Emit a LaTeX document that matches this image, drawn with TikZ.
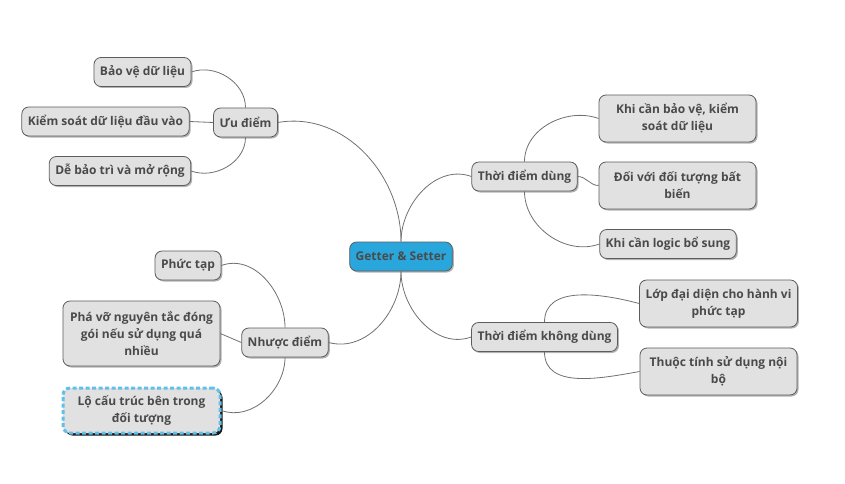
\documentclass[tikz,border=0pt]{standalone}
\usepackage{fontspec}
\setmainfont{Open Sans}
\usetikzlibrary{shadows}
\definecolor{topicfill}{HTML}{E1E1E1}
\definecolor{topicline}{HTML}{5C5C5C}
\definecolor{topictext}{HTML}{4A4A4A}
\definecolor{centerfill}{HTML}{29A7DC}
\definecolor{linkline}{HTML}{707070}
\definecolor{markblue}{HTML}{62BFE8}
\tikzset{
  topicbase/.style={draw=topicline, line width=0.8pt, fill=topicfill, rounded corners=7pt,
    text=topictext, font=\fontsize{12}{17}\selectfont\bfseries, align=center,
    inner xsep=6pt, inner ysep=3pt, minimum height=29pt},
  topic/.style={topicbase,
    drop shadow={shadow xshift=1.5pt, shadow yshift=-1.5pt, fill=black!50, opacity=0.6}},
  wide/.style={topic, minimum width=157pt},
  central/.style={topic, fill=centerfill},
  marked/.style={topicbase, draw=markblue, line width=3pt, dash pattern=on 4pt off 2.5pt,
    drop shadow={shadow xshift=2.5pt, shadow yshift=-2.5pt, fill=black!90, opacity=1}},
  link/.style={draw=linkline, line width=0.8pt}
}
\begin{document}
\begin{tikzpicture}[x=1pt,y=1pt]
  \useasboundingbox (0,0) rectangle (845,-484);
  \node[central] (gs) at (401,-256.5) {Getter \& Setter};
  % left side
  \node[topic] (ud) at (245.5,-122.5) {Ưu điểm};
  \node[topic] (bv) at (142.5,-72) {Bảo vệ dữ liệu};
  \node[topic] (km) at (105.5,-121.5) {Kiểm soát dữ liệu đầu vào};
  \node[topic] (dbt) at (120,-171) {Dễ bảo trì và mở rộng};
  \node[topic] (ne) at (285,-342.5) {Nhược điểm};
  \node[topic] (pt) at (188,-265.5) {Phức tạp};
  \node[wide, minimum height=65pt] (pv) at (141.5,-333.5) {Phá vỡ nguyên tắc đóng\\gói nếu sử dụng quá\\nhiều};
  \node[marked, minimum width=157pt, minimum height=45pt] (lo) at (141.5,-410.5) {Lộ cấu trúc bên trong\\đối tượng};
  % right side
  \node[topic] (tdd) at (524.5,-176.5) {Thời điểm dùng};
  \node[wide, minimum height=47pt] (kcb) at (677.5,-118.5) {Khi cần bảo vệ, kiểm\\soát dữ liệu};
  \node[wide, minimum height=47pt] (dv) at (677.5,-185.5) {Đối với đối tượng bất\\biến};
  \node[topic] (kcl) at (668,-244) {Khi cần logic bổ sung};
  \node[topic] (tkd) at (544.5,-337) {Thời điểm không dùng};
  \node[wide, minimum height=47pt] (lop) at (718.5,-303.5) {Lớp đại diện cho hành vi\\phức tạp};
  \node[wide, minimum height=47pt] (tt) at (718.5,-371.5) {Thuộc tính sử dụng nội\\bộ};
  \begin{scope}[link]
    \draw (gs.north) to[out=90,in=10] (ud.east);
    \draw (gs.north) to[out=90,in=160] (tdd.west);
    \draw (gs.south) to[out=-90,in=-15] (ne.east);
    \draw (gs.south) to[out=-90,in=200] (tkd.west);
    \draw (ud.north) to[out=90,in=20] (bv.east);
    \draw (ud.west) -- (km.east);
    \draw (ud.south) to[out=-90,in=-20] (dbt.east);
    \draw (ne.north) to[out=90,in=20] (pt.east);
    \draw (ne.west) -- (pv.east);
    \draw (ne.south) to[out=-90,in=-20] (lo.east);
    \draw (tdd.north) to[out=90,in=160] (kcb.west);
    \draw (tdd.east) to[out=0,in=180] (dv.west);
    \draw (tdd.south) to[out=-90,in=200] (kcl.west);
    \draw (tkd.north) to[out=90,in=165] (lop.west);
    \draw (tkd.south) to[out=-90,in=190] (tt.west);
  \end{scope}
\end{tikzpicture}
\end{document}
